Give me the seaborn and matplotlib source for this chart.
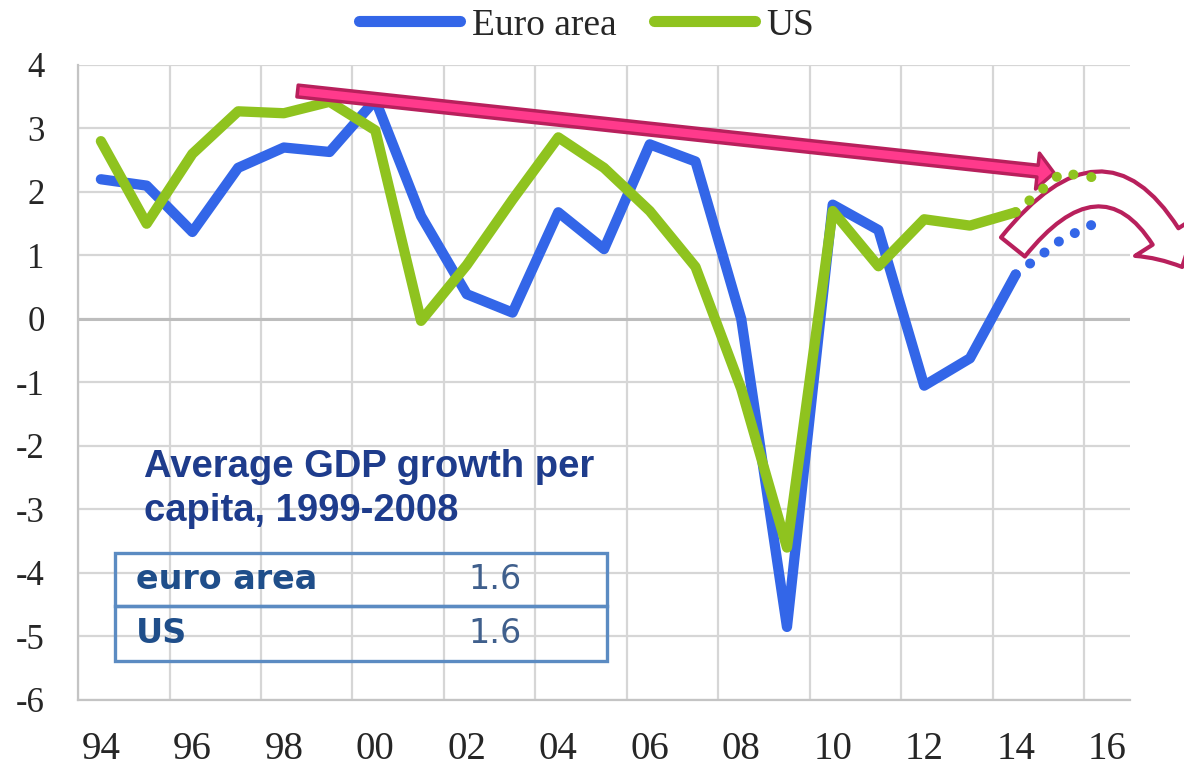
import matplotlib
matplotlib.use("Agg")
import matplotlib.pyplot as plt
import numpy as np
import pandas as pd
import seaborn as sns
from matplotlib.lines import Line2D
from matplotlib.patches import ArrowStyle, FancyArrowPatch, Rectangle

# Annual GDP growth per capita (%), 1994-2014 outturns
years = list(range(1994, 2015))
euro_area = [2.2, 2.1, 1.37, 2.38, 2.7, 2.63, 3.45, 1.62, 0.39, 0.1, 1.68,
             1.1, 2.75, 2.48, 0.0, -4.85, 1.8, 1.4, -1.05, -0.62, 0.7]
us = [2.8, 1.5, 2.6, 3.27, 3.24, 3.42, 2.97, -0.03, 0.85, 1.88, 2.86,
      2.38, 1.7, 0.82, -1.1, -3.6, 1.7, 0.83, 1.57, 1.47, 1.68]

# Forecast path 2014-2016
proj_years = [2014, 2015, 2016]
euro_area_proj = [0.7, 1.25, 1.6]
us_proj = [1.68, 2.3, 2.2]

# Average growth table, 1999-2008
avg_labels = ["euro area", "US"]
avg_values = [1.6, 1.6]

x_ticks = list(range(1994, 2017, 2))
x_tick_labels = [f"{y % 100:02d}" for y in x_ticks]
y_ticks = list(range(-6, 5))

BLUE = "#3366E8"
GREEN = "#8FC31F"
GRID = "#D6D6D6"
MAGENTA_EDGE = "#B8205C"
PINK_FILL = "#FF3A8C"

sns.set_theme(style="white")
plt.rcParams["font.family"] = ["Liberation Serif", "DejaVu Serif"]

fig = plt.figure(figsize=(11.84, 7.67), dpi=100)
ax = fig.add_axes([0.0659, 0.0874, 0.8885, 0.8279])

df = pd.DataFrame({"year": years, "Euro area": euro_area, "US": us})
df_proj = pd.DataFrame({"year": proj_years, "Euro area": euro_area_proj, "US": us_proj})

sns.lineplot(data=df, x="year", y="Euro area", color=BLUE, ax=ax)
sns.lineplot(data=df, x="year", y="US", color=GREEN, ax=ax)
n_solid = len(ax.lines)
sns.lineplot(data=df_proj, x="year", y="Euro area", color=BLUE, ax=ax)
sns.lineplot(data=df_proj, x="year", y="US", color=GREEN, ax=ax)

# Solid outturns, round-dotted projections
for i, line in enumerate(ax.lines):
    if i < n_solid:
        line.set_zorder(3)
        line.set_linewidth(7.4)
        line.set_solid_capstyle("round")
        line.set_solid_joinstyle("round")
    else:
        line.set_zorder(6)
        line.set_linewidth(7.2)
        line.set_linestyle((0, (0.01, 1.8)))
        line.set_dash_capstyle("round")

# Axes, grid and ticks
ax.set_xlim(1993.5, 2016.5)
ax.set_ylim(-6, 4)
ax.set_xticks(x_ticks)
ax.set_xticklabels(x_tick_labels)
ax.set_yticks(y_ticks)
ax.set_yticklabels([str(v) for v in y_ticks])
ax.set_xticks(np.arange(1993.5, 2016.0, 2), minor=True)
ax.grid(False)
ax.grid(True, which="minor", axis="x", color=GRID, lw=1.6, zorder=0)
ax.grid(True, which="major", axis="y", color=GRID, lw=1.6, zorder=0)
ax.set_axisbelow(True)
ax.axhline(0, color="#BDBDBD", lw=2.2, zorder=1.5)
ax.set_xlabel("")
ax.set_ylabel("")
for side in ("top", "right"):
    ax.spines[side].set_visible(False)
for side in ("left", "bottom"):
    ax.spines[side].set_color("#C4C4C4")
    ax.spines[side].set_linewidth(1.6)
ax.tick_params(axis="x", which="both", length=0, labelsize=28, pad=22, colors="#262626")
ax.tick_params(axis="y", which="both", length=0, labelsize=25, pad=24, colors="#262626")

# Legend across the top
handles = [Line2D([], [], color=BLUE, lw=8, solid_capstyle="round"),
           Line2D([], [], color=GREEN, lw=8, solid_capstyle="round")]
fig.legend(handles, ["Euro area", "US"], loc="center", bbox_to_anchor=(0.4954, 0.967),
           ncol=2, frameon=False, fontsize=27, handlelength=2.7, handletextpad=0.3,
           columnspacing=1.0, labelcolor="#262626")

# Long-run trend arrow
trend = FancyArrowPatch((1998.3, 3.59), (2014.84, 2.30),
                        arrowstyle=ArrowStyle.Simple(head_length=12, head_width=26, tail_width=8.5),
                        mutation_scale=1, shrinkA=0, shrinkB=0,
                        fc=PINK_FILL, ec=MAGENTA_EDGE, lw=2.5, zorder=5, clip_on=False)
ax.add_patch(trend)

# Curved outlook arrow
outlook = FancyArrowPatch((2013.94, 1.134), (2017.64, 0.819),
                          connectionstyle="arc3,rad=-0.8",
                          arrowstyle=ArrowStyle.Simple(head_length=25, head_width=52, tail_width=22),
                          mutation_scale=1, shrinkA=0, shrinkB=0,
                          fc="white", ec=MAGENTA_EDGE, lw=3, zorder=5, clip_on=False)
ax.add_patch(outlook)

# Inset: average growth box
title_kw = dict(transform=ax.transAxes, fontsize=27.5, fontweight="bold",
                family=["Liberation Sans", "DejaVu Sans"], color="#1E3C8C", va="baseline", zorder=4)
ax.text(0.0627, 0.351, "Average GDP growth per", **title_kw)
ax.text(0.0627, 0.282, "capita, 1999-2008", **title_kw)

box_x0, box_x1 = 0.0352, 0.503
row_edges = [0.2315, 0.148, 0.0614]
for i, (name, val) in enumerate(zip(avg_labels, avg_values)):
    top, bottom = row_edges[i], row_edges[i + 1]
    ax.add_patch(Rectangle((box_x0, bottom), box_x1 - box_x0, top - bottom,
                           transform=ax.transAxes, fill=False, ec="#5B8BC2", lw=2.4, zorder=4))
    mid = (top + bottom) / 2
    ax.text(0.0547, mid, name, transform=ax.transAxes, fontsize=24, fontweight="bold",
            family=["DejaVu Sans"], color="#1F4E8A", va="center", ha="left", zorder=4)
    ax.text(0.396, mid, f"{val:.1f}", transform=ax.transAxes, fontsize=24,
            family=["DejaVu Sans"], color="#3F5F8C", va="center", ha="center", zorder=4)

fig.savefig("out.png", dpi=100)
